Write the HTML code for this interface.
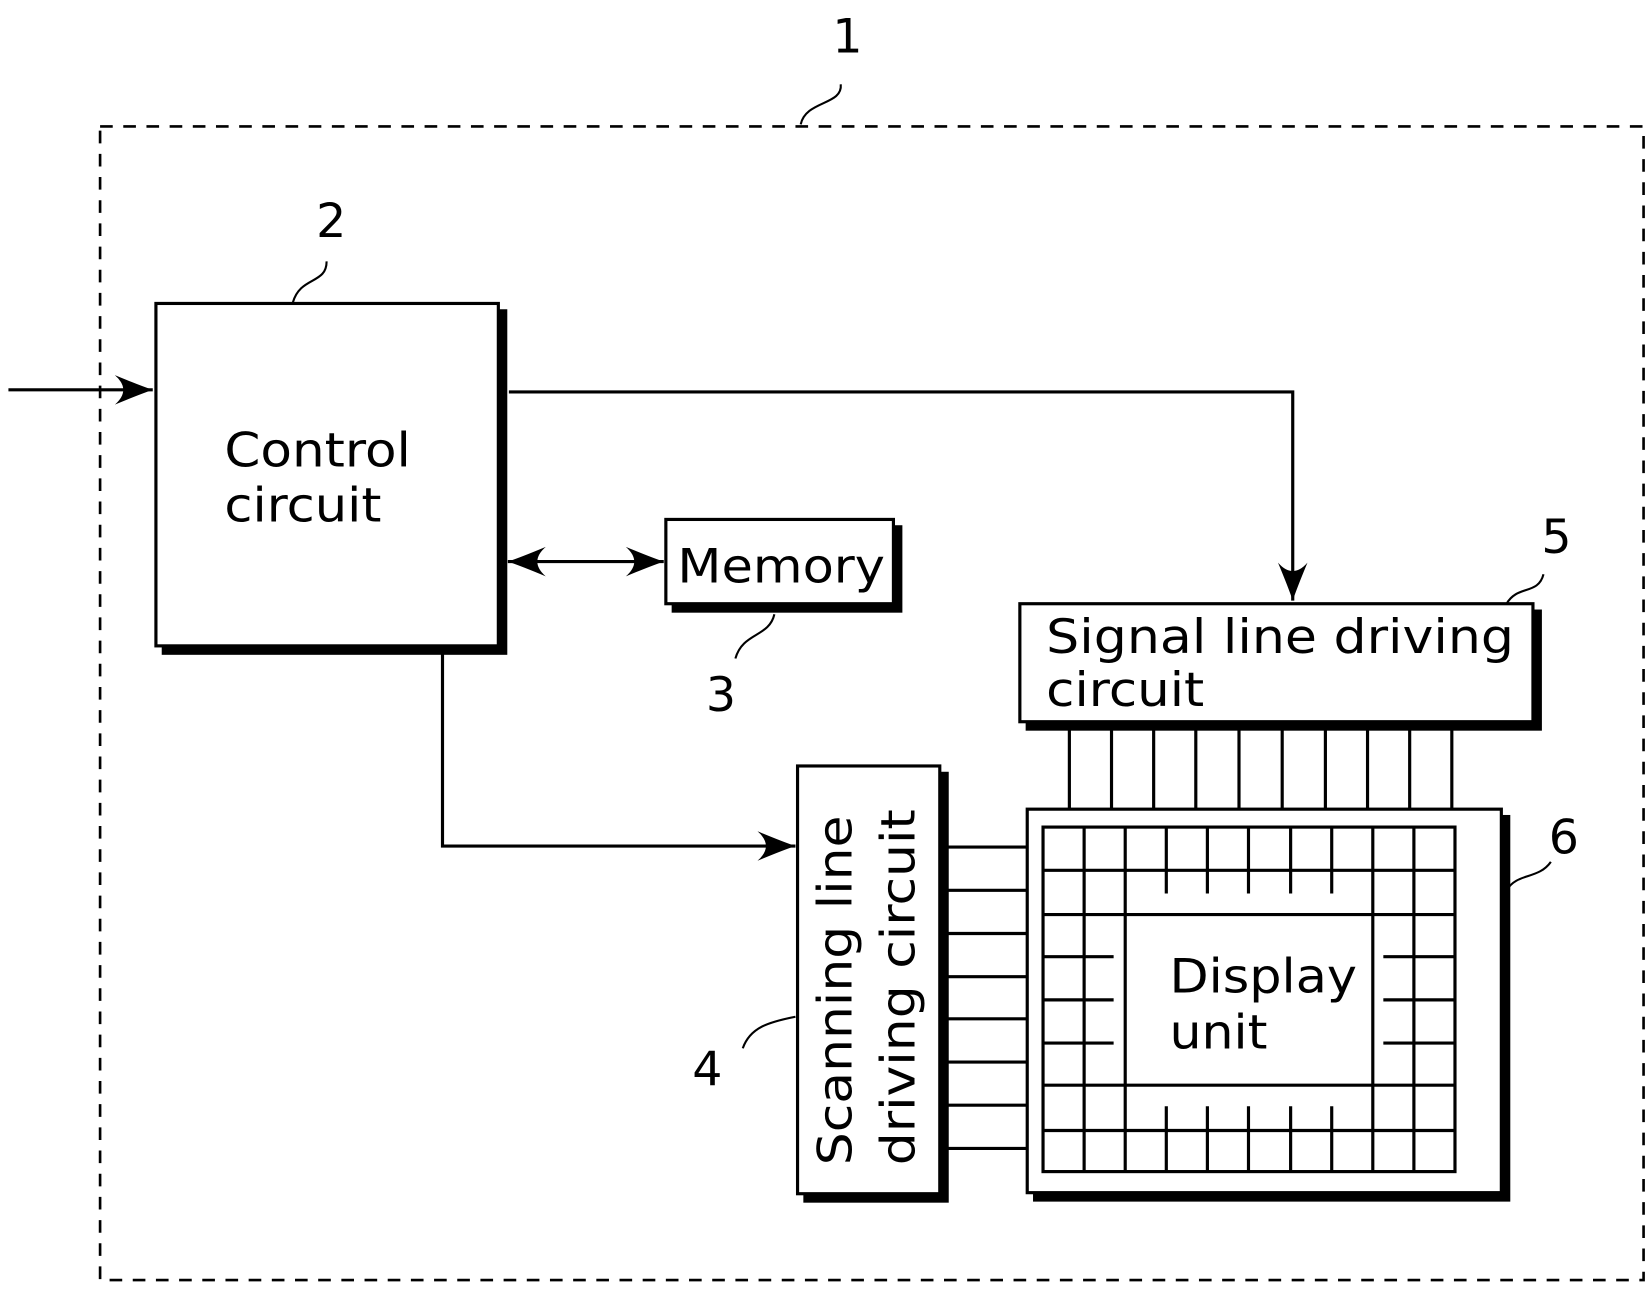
<!DOCTYPE html>
<html><head><meta charset="utf-8"><style>html,body{margin:0;padding:0;background:#fff}svg{display:block}</style></head>
<body>
<svg width="1652" height="1297" viewBox="0 0 1568 1231" xmlns="http://www.w3.org/2000/svg" font-family="'DejaVu Sans','Liberation Sans',sans-serif" font-size="45" fill="#000">
<defs>
<marker id="a" viewBox="0 0 40 30" refX="38" refY="15" markerWidth="40" markerHeight="30" markerUnits="userSpaceOnUse" orient="auto-start-reverse">
<path d="M2,1 Q26,11 38,15 Q26,19 2,29 Q18,15 2,1Z" fill="#000"/>
</marker>
</defs>
<rect x="95" y="120" width="1465" height="1095" fill="none" stroke="#000" stroke-width="2.5" stroke-dasharray="12,10"/>
<g fill="none" stroke="#000" stroke-width="2">
<path d="M760,118 C765,95 800,100 798,80"/>
<path d="M278,287 C285,262 310,270 310,248"/>
<path d="M735,583 C730,605 705,600 698,625"/>
<path d="M1430,573 C1440,555 1460,565 1465,545"/>
<path d="M755,965 C730,970 712,975 705,995"/>
<path d="M1430,845 C1440,828 1460,835 1472,818"/>
</g>
<text x="790" y="50">1</text>
<text x="300" y="225">2</text>
<text x="670" y="675">3</text>
<text x="657" y="1030">4</text>
<text x="1463" y="525">5</text>
<text x="1470" y="810">6</text>
<g fill="none" stroke="#000" stroke-width="3">
<line x1="8" y1="370" x2="145" y2="370" marker-end="url(#a)"/>
<path d="M483,372 H1227 V570" marker-end="url(#a)"/>
<line x1="482" y1="533" x2="630" y2="533" marker-start="url(#a)" marker-end="url(#a)"/>
<path d="M420,620 V803 H755" marker-end="url(#a)"/>
</g>
<g stroke="#000" stroke-width="3">
<rect x="155" y="295" width="325" height="325" fill="#000"/>
<rect x="148" y="288" width="325" height="325" fill="#fff"/>
<rect x="639" y="500" width="216" height="80" fill="#000"/>
<rect x="632" y="493" width="216" height="80" fill="#fff"/>
<rect x="975" y="580" width="487" height="112" fill="#000"/>
<rect x="968" y="573" width="487" height="112" fill="#fff"/>
<rect x="764" y="734" width="135" height="406" fill="#000"/>
<rect x="757" y="727" width="135" height="406" fill="#fff"/>
<rect x="982" y="775" width="450" height="364" fill="#000"/>
<rect x="975" y="768" width="450" height="364" fill="#fff"/>
</g>
<text x="213" y="443" textLength="177" lengthAdjust="spacingAndGlyphs">Control</text>
<text x="213" y="495" textLength="149" lengthAdjust="spacingAndGlyphs">circuit</text>
<text x="643" y="553" textLength="197" lengthAdjust="spacingAndGlyphs">Memory</text>
<text x="993" y="620" textLength="444" lengthAdjust="spacingAndGlyphs">Signal line driving</text>
<text x="993" y="670" textLength="150" lengthAdjust="spacingAndGlyphs">circuit</text>
<g transform="translate(808,1106) rotate(-90)"><text x="0" y="0" textLength="332" lengthAdjust="spacingAndGlyphs">Scanning line</text></g>
<g transform="translate(868,1106) rotate(-90)"><text x="0" y="0" textLength="338" lengthAdjust="spacingAndGlyphs">driving circuit</text></g>
<text x="1110" y="942" textLength="178" lengthAdjust="spacingAndGlyphs">Display</text>
<text x="1110" y="995" textLength="93" lengthAdjust="spacingAndGlyphs">unit</text>
<g stroke="#000" stroke-width="3">
<line x1="1015" y1="685" x2="1015" y2="768"/><line x1="1055" y1="685" x2="1055" y2="768"/>
<line x1="1095" y1="685" x2="1095" y2="768"/><line x1="1135" y1="685" x2="1135" y2="768"/>
<line x1="1176" y1="685" x2="1176" y2="768"/><line x1="1217" y1="685" x2="1217" y2="768"/>
<line x1="1258" y1="685" x2="1258" y2="768"/><line x1="1298" y1="685" x2="1298" y2="768"/>
<line x1="1338" y1="685" x2="1338" y2="768"/><line x1="1378" y1="685" x2="1378" y2="768"/>
<line x1="892" y1="804" x2="975" y2="804"/><line x1="892" y1="845" x2="975" y2="845"/>
<line x1="892" y1="886" x2="975" y2="886"/><line x1="892" y1="927" x2="975" y2="927"/>
<line x1="892" y1="967" x2="975" y2="967"/><line x1="892" y1="1008" x2="975" y2="1008"/>
<line x1="892" y1="1049" x2="975" y2="1049"/><line x1="892" y1="1090" x2="975" y2="1090"/>
<rect x="990" y="785" width="391" height="327" fill="none"/>
<line x1="990" y1="826" x2="1381" y2="826"/><line x1="990" y1="868" x2="1381" y2="868"/>
<line x1="990" y1="1030" x2="1381" y2="1030"/><line x1="990" y1="1073" x2="1381" y2="1073"/>
<line x1="1029" y1="785" x2="1029" y2="1112"/><line x1="1068" y1="785" x2="1068" y2="1112"/>
<line x1="1303" y1="785" x2="1303" y2="1112"/><line x1="1342" y1="785" x2="1342" y2="1112"/>
<line x1="990" y1="908" x2="1057" y2="908"/><line x1="990" y1="949" x2="1057" y2="949"/><line x1="990" y1="990" x2="1057" y2="990"/>
<line x1="1313" y1="908" x2="1381" y2="908"/><line x1="1313" y1="949" x2="1381" y2="949"/><line x1="1313" y1="990" x2="1381" y2="990"/>
<line x1="1107" y1="785" x2="1107" y2="848"/><line x1="1146" y1="785" x2="1146" y2="848"/><line x1="1185" y1="785" x2="1185" y2="848"/><line x1="1225" y1="785" x2="1225" y2="848"/><line x1="1264" y1="785" x2="1264" y2="848"/>
<line x1="1107" y1="1050" x2="1107" y2="1112"/><line x1="1146" y1="1050" x2="1146" y2="1112"/><line x1="1185" y1="1050" x2="1185" y2="1112"/><line x1="1225" y1="1050" x2="1225" y2="1112"/><line x1="1264" y1="1050" x2="1264" y2="1112"/>
</g>
</svg>
</body></html>
